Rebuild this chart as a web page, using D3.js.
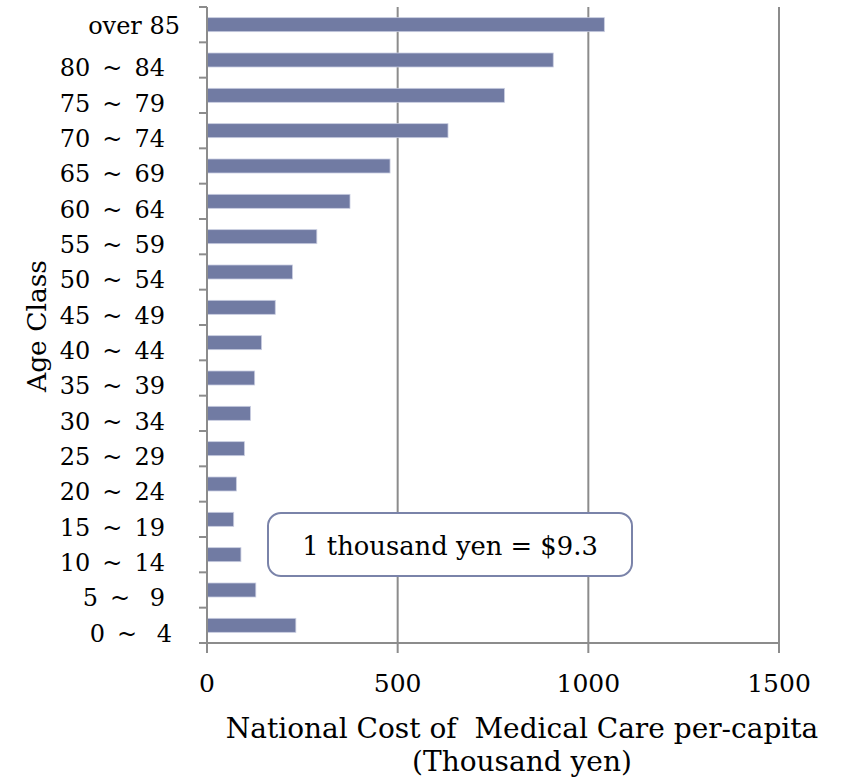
<!DOCTYPE html>
<html>
<head>
<meta charset="utf-8">
<script src="https://cdn.jsdelivr.net/npm/d3@7/dist/d3.min.js"></script>
<style>
  html, body { margin: 0; padding: 0; background: #fff; }
  svg text { font-family: "DejaVu Serif", serif; fill: #000; }
</style>
</head>
<body>
<svg id="chart" width="844" height="780"></svg>
<script>
const categories = ["over 85", "80 ~ 84", "75 ~ 79", "70 ~ 74", "65 ~ 69", "60 ~ 64",
  "55 ~ 59", "50 ~ 54", "45 ~ 49", "40 ~ 44", "35 ~ 39", "30 ~ 34", "25 ~ 29",
  "20 ~ 24", "15 ~ 19", "10 ~ 14", "5 ~ 9", "0 ~ 4"];
const values = [1042, 908, 780, 632, 480, 375, 288, 224, 179, 143, 125, 114, 98, 77, 70, 89, 128, 233];
const xTicks = [0, 500, 1000, 1500];
const xTitle = ["National Cost of  Medical Care per-capita", "(Thousand yen)"];
const yTitle = "Age Class";
const note = "1 thousand yen = $9.3";

(function () {
const svg = d3.select("#chart");
const pLeft = 207, pRight = 779, pTop = 7, pBottom = 643;

const x = d3.scaleLinear().domain([0, 1500]).range([pLeft, pRight]);
const yb = d3.scaleBand().domain(categories).range([pTop, pBottom]);

const axisColor = "#8c8c8c";

// grid lines
svg.append("g").selectAll("line").data(xTicks.filter(d => d > 0)).join("line")
  .attr("x1", d => x(d)).attr("x2", d => x(d))
  .attr("y1", pTop).attr("y2", pBottom)
  .attr("stroke", axisColor).attr("stroke-width", 2);

// bars
svg.append("g").selectAll("rect").data(categories).join("rect")
  .attr("x", x(0))
  .attr("y", (d) => yb(d) + yb.bandwidth() / 2 - 7)
  .attr("width", (d, i) => x(values[i]) - x(0))
  .attr("height", 14)
  .attr("fill", "#717ba3")
  .attr("stroke", "#c9cde0").attr("stroke-width", 0.8);

// y axis line and ticks
svg.append("line").attr("x1", pLeft).attr("x2", pLeft).attr("y1", pTop).attr("y2", pBottom + 1)
  .attr("stroke", axisColor).attr("stroke-width", 2);
const yTickPos = categories.map(c => yb(c)).concat([pBottom]);
svg.append("g").selectAll("line").data(yTickPos).join("line")
  .attr("x1", pLeft - 8).attr("x2", pLeft).attr("y1", d => d).attr("y2", d => d)
  .attr("stroke", axisColor).attr("stroke-width", 2);

// x axis line & ticks
svg.append("line").attr("x1", pLeft - 8).attr("x2", pRight).attr("y1", pBottom).attr("y2", pBottom)
  .attr("stroke", axisColor).attr("stroke-width", 2);
svg.append("g").selectAll("line").data(xTicks).join("line")
  .attr("x1", d => x(d)).attr("x2", d => x(d)).attr("y1", pBottom).attr("y2", pBottom + 10)
  .attr("stroke", axisColor).attr("stroke-width", 2);

// x tick labels
svg.append("g").selectAll("text").data(xTicks).join("text")
  .attr("x", d => x(d)).attr("y", 692)
  .attr("text-anchor", "middle").attr("font-size", 25)
  .text(d => d);

// y labels
function fmtLabel(c) {
  if (c.startsWith("over")) return c;
  const parts = c.split(" ~ ");
  const sp = "\u2002";
  if (parts[1].length === 1) return parts[0] + sp + "~" + sp + " " + parts[1];
  return parts[0] + sp + "~" + sp + parts[1];
}
function labelEnd(c) {
  if (c.startsWith("over")) return 180;
  if (c === "0 ~ 4") return 172;
  return 165;
}
function labelShift(c) {
  return c.startsWith("over") ? 1 : 8;
}
svg.append("g").selectAll("text").data(categories).join("text")
  .attr("x", d => labelEnd(d))
  .attr("y", d => yb(d) + yb.bandwidth() / 2 + labelShift(d))
  .attr("dy", "0.35em")
  .attr("text-anchor", "end").attr("font-size", 24)
  .style("white-space", "pre")
  .text(d => fmtLabel(d));

// y title
svg.append("text")
  .attr("transform", "translate(46,326) rotate(-90)")
  .attr("text-anchor", "middle").attr("font-size", 26.5)
  .text(yTitle);

// x title
svg.append("g").selectAll("text").data(xTitle).join("text")
  .attr("x", 522).attr("y", (d, i) => 738 + i * 33)
  .attr("text-anchor", "middle").attr("font-size", 28)
  .style("white-space", "pre")
  .text(d => d);

// note box
svg.append("rect")
  .attr("x", 268).attr("y", 513).attr("width", 364).attr("height", 63)
  .attr("rx", 13).attr("ry", 13)
  .attr("fill", "#fff").attr("stroke", "#7a83a9").attr("stroke-width", 2);
svg.append("text").attr("x", 450).attr("y", 555)
  .attr("text-anchor", "middle").attr("font-size", 25.8)
  .text(note);
})();
</script>
</body>
</html>
